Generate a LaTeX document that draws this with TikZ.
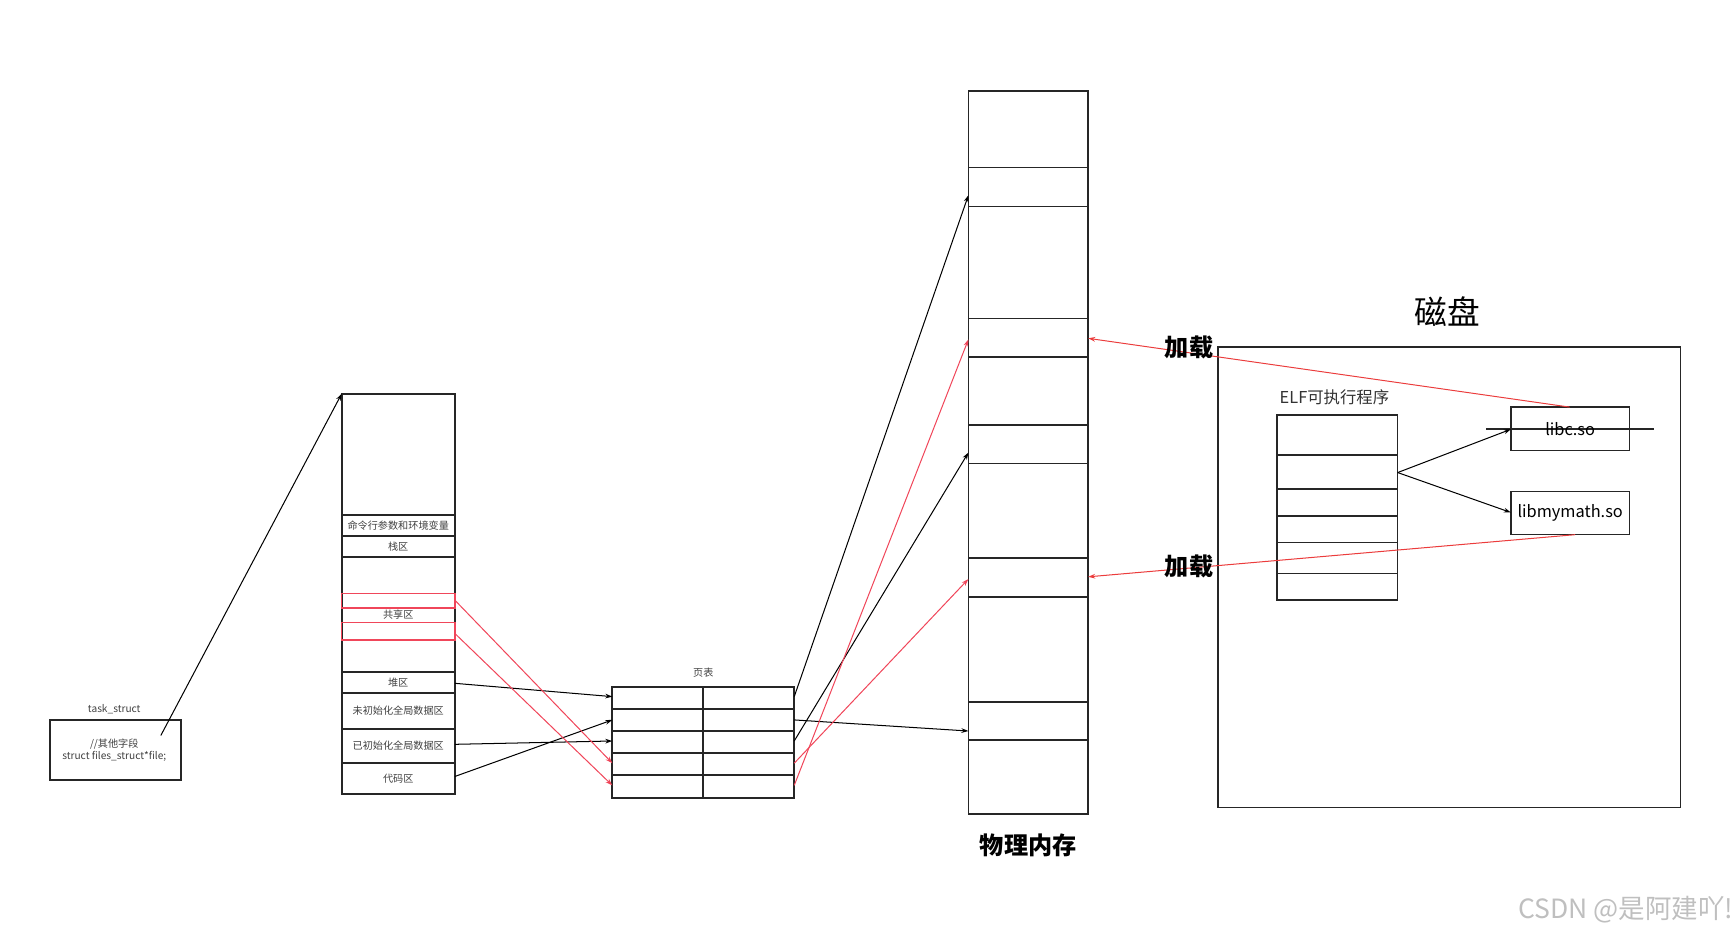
\documentclass[tikz,border=0pt]{standalone}
\usepackage{fontspec}
\setmainfont{Noto Sans CJK SC}
\usetikzlibrary{arrows.meta}
\definecolor{rd}{RGB}{240,70,90}
\definecolor{rd2}{RGB}{235,60,60}
\begin{document}
\begin{tikzpicture}[x=0.05cm,y=-0.05cm,
  box/.style={draw=black!85,line width=2pt},
  arr/.style={line width=1.3pt,-{Stealth[length=9pt,width=6pt]}},
  rarr/.style={arr,draw=rd,color=rd},
  larr/.style={arr,draw=rd2,color=rd2},
  sm/.style={font=\fontsize{13}{15}\selectfont,text=black!75},
  big/.style={font=\fontsize{31}{36}\selectfont\bfseries}]
\useasboundingbox (0,0) rectangle (1565,846.5);
% task_struct
\draw[box,line width=2.5pt] (45,649) rectangle (163,703);
\node[sm] (tl) at (103,639) {task\_struct};
\node[sm,align=center] (tt) at (103,676) {//其他字段\\struct files\_struct*file;};
\coordinate (ts) at (145,663);
% virtual memory
\draw[box,line width=2.5pt] (308,355) rectangle (410,716);
\foreach \y in {464,483,502,606,625,657,688} \draw[box,line width=2.5pt] (308,\y) -- (410,\y);
\coordinate (vtop) at (308,355);
\node[sm] at (359,473.5) {命令行参数和环境变量};
\node[sm] at (359,492.5) {栈区};
\draw[draw=rd,line width=2pt] (308,535) rectangle (410,548);
\draw[draw=rd,line width=2pt] (308,561) rectangle (410,577);
\node[sm] at (359,554) {共享区};
\node[sm] at (359,615.5) {堆区};
\node[sm] at (359,641) {未初始化全局数据区};
\node[sm] at (359,672) {已初始化全局数据区};
\node[sm] at (359,702) {代码区};
\coordinate (vh) at (410,616);
\coordinate (vi) at (410,671);
\coordinate (vc) at (410,700);
\coordinate (vs1) at (410,541);
\coordinate (vs2) at (410,571);
% page table
\node[sm] (pt) at (634,606) {页表};
\foreach \y in {619,639,659,679,699} \draw[box,line width=2.5pt] (552,\y) rectangle (634,\y+20) (634,\y) rectangle (716,\y+20);
\foreach \i/\y in {1/628,2/649,3/668,4/688,5/708} {\coordinate (pl\i) at (552,\y); \coordinate (pr\i) at (716,\y);}
% physical memory
\draw[box] (873,82) rectangle (981,734);
\foreach \a/\b in {151/186,287/322,383/418,503/538,633/667} {\draw[box] (873,\a) -- (981,\a); \draw[box] (873,\b) -- (981,\b);}
\coordinate (m1) at (873,176);
\coordinate (m2) at (873,306);
\coordinate (m3) at (873,408);
\coordinate (m4) at (873,522);
\coordinate (m5) at (873,659);
\coordinate (mr1) at (981,305);
\coordinate (mr2) at (981,520);
\node[big] (pm) at (927,762) {物理内存};
% disk
\draw[box] (1098,313) rectangle (1515,728);
\node[font=\fontsize{42}{48}\selectfont] (disk) at (1305,281) {磁盘};
\node[font=\fontsize{21}{24}\selectfont,text=black!80] (elf) at (1203,358) {ELF可执行程序};
\draw[box] (1151,374) rectangle (1260,541);
\foreach \y in {410,441,465,489,517} \draw[box] (1151,\y) -- (1260,\y);
\coordinate (ef) at (1260,426);
\node[box,minimum width=107\pgflinewidth,inner sep=0pt,font=\fontsize{22}{24}\selectfont] (libc) at (1415.5,386.5) {};
\draw[box] (1362,367) rectangle (1469,406);
\node[font=\fontsize{21}{24}\selectfont] at (1415.5,386.5) {libc.so};
\draw[box] (1362,443) rectangle (1469,482);
\node[font=\fontsize{21}{24}\selectfont] at (1415.5,462.5) {libmymath.so};
\coordinate (lc) at (1362,387);
\coordinate (lm) at (1362,462);
\coordinate (lct) at (1415,367);
\coordinate (lmb) at (1420,482);
% arrows
\draw[arr] (ts) -- (vtop);
\draw[arr] (vh) -- (pl1);
\draw[arr] (vi) -- (pl3);
\draw[arr] (vc) -- (pl2);
\draw[rarr] (vs1) -- (pl4);
\draw[rarr] (vs2) -- (pl5);
\draw[arr] (pr1) -- (m1);
\draw[arr] (pr3) -- (m3);
\draw[arr] (pr2) -- (m5);
\draw[rarr] (pr4) -- (m4);
\draw[rarr] (pr5) -- (m2);
\draw[arr] (ef) -- (lc);
\draw[arr] (ef) -- (lm);
\draw[larr] (lct) -- (mr1);
\draw[larr] (lmb) -- (mr2);
\node[big] (j1) at (1072,313) {加载};
\node[big] (j2) at (1072,511) {加载};
\node[font=\fontsize{34}{38}\selectfont,text=black!25,anchor=east] (wm) at (1565,820) {CSDN @是阿建吖!};
\end{tikzpicture}
\end{document}
